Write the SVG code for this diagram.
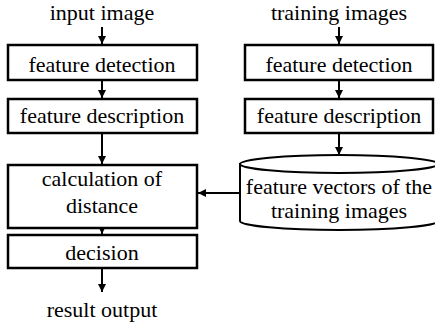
<svg xmlns="http://www.w3.org/2000/svg" width="435" height="333" viewBox="0 0 435 333" font-family="'Liberation Serif', 'DejaVu Serif', serif">
<style>
.box{fill:#fff;stroke:#000;stroke-width:2.5}
.cyl{fill:#fff;stroke:#000;stroke-width:2}
.t{font-family:'Liberation Serif','DejaVu Serif',serif;font-size:22px;fill:#000;text-anchor:middle}
.c{stroke:#000;stroke-width:2;fill:none}
</style>
<defs>
<marker id="ah" viewBox="0 0 8 10" refX="8" refY="5" markerWidth="8" markerHeight="10" markerUnits="userSpaceOnUse" orient="auto">
<path d="M0,1 L8,5 L0,9 Z" fill="#000"/>
</marker>
</defs>
<rect width="435" height="333" fill="#fff"/>
<g id="connectors">
<line class="c" x1="102" y1="27" x2="102" y2="44" marker-end="url(#ah)"/>
<line class="c" x1="102" y1="81" x2="102" y2="98" marker-end="url(#ah)"/>
<line class="c" x1="102" y1="134" x2="102" y2="164" marker-end="url(#ah)"/>
<line class="c" x1="102" y1="229" x2="102" y2="234" marker-end="url(#ah)"/>
<line class="c" x1="102" y1="269" x2="102" y2="292" marker-end="url(#ah)"/>
<line class="c" x1="339" y1="27" x2="339" y2="44" marker-end="url(#ah)"/>
<line class="c" x1="339" y1="81" x2="339" y2="98" marker-end="url(#ah)"/>
<line class="c" x1="339" y1="134" x2="339" y2="155" marker-end="url(#ah)"/>
<line class="c" x1="240" y1="193" x2="198" y2="193" marker-end="url(#ah)"/>
</g>
<g id="input"><text class="t" x="102" y="20">input image</text></g>
<g id="training"><text class="t" x="339" y="20">training images</text></g>
<g id="fd1"><rect class="box" x="8" y="45" width="189" height="35"/><text class="t" x="102" y="72">feature detection</text></g>
<g id="fdesc1"><rect class="box" x="8" y="99" width="189" height="34"/><text class="t" x="102" y="123">feature description</text></g>
<g id="calc"><rect class="box" x="8" y="165" width="189" height="63"/><text class="t" x="102" y="186">calculation of</text><text class="t" x="102" y="213">distance</text></g>
<g id="decision"><rect class="box" x="8" y="235" width="189" height="33"/><text class="t" x="102" y="260">decision</text></g>
<g id="result"><text class="t" x="102" y="317">result output</text></g>
<g id="fd2"><rect class="box" x="245" y="45" width="188" height="35"/><text class="t" x="339" y="72">feature detection</text></g>
<g id="fdesc2"><rect class="box" x="245" y="99" width="188" height="34"/><text class="t" x="339" y="123">feature description</text></g>
<g id="db">
<path class="cyl" d="M240,164 L240,221 A99,9 0 0 0 438,221 L438,164 Z"/>
<ellipse class="cyl" cx="339" cy="164" rx="99" ry="9"/>
<text class="t" x="339" y="194">feature vectors of the</text>
<text class="t" x="339" y="218">training images</text>
</g>
</svg>
